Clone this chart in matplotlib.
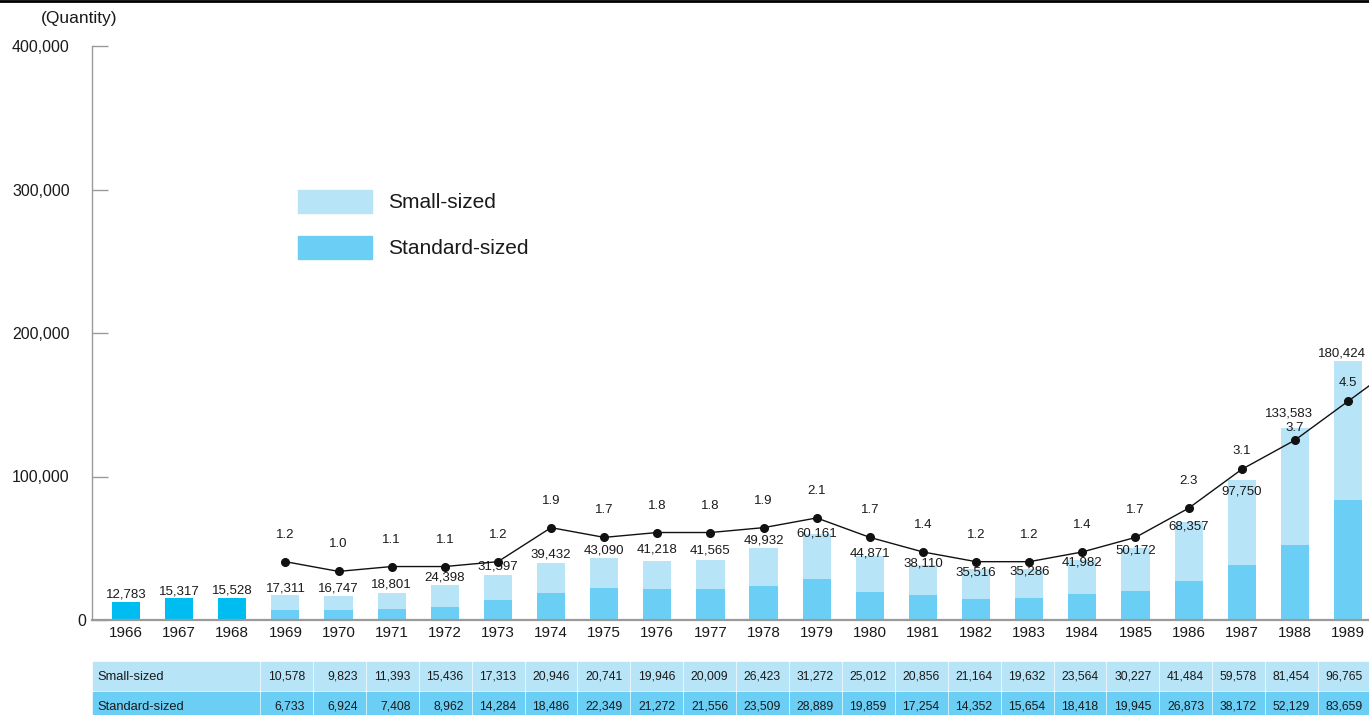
import matplotlib
matplotlib.use("Agg")
import matplotlib.pyplot as plt
from matplotlib.patches import Rectangle
from matplotlib.lines import Line2D
from matplotlib.transforms import ScaledTranslation

plt.rcParams["font.family"] = ["Liberation Sans", "DejaVu Sans"]

# production by year, units
years = list(range(1966, 1990))
early_totals = [12783, 15317, 15528]          # 1966-1968, no size breakdown
small_sized = [10578, 9823, 11393, 15436, 17313, 20946, 20741, 19946, 20009, 26423,
               31272, 25012, 20856, 21164, 19632, 23564, 30227, 41484, 59578, 81454, 96765]
standard_sized = [6733, 6924, 7408, 8962, 14284, 18486, 22349, 21272, 21556, 23509,
                  28889, 19859, 17254, 14352, 15654, 18418, 19945, 26873, 38172, 52129, 83659]
ratio = [1.2, 1.0, 1.1, 1.1, 1.2, 1.9, 1.7, 1.8, 1.8, 1.9, 2.1, 1.7, 1.4, 1.2, 1.2,
         1.4, 1.7, 2.3, 3.1, 3.7, 4.5]

C_EARLY = "#00BDF1"
C_STD = "#6BCEF4"
C_SMALL = "#B8E4F8"
TXT = "#1a1a1a"
GRID = "#9a9a9a"

W, H = 1369, 715
fig = plt.figure(figsize=(W / 100, H / 100), dpi=100)

ax = fig.add_axes([92 / W, (H - 620) / H, 1 - 92 / W, (620 - 46) / H])
ax.patch.set_visible(False)
n_early = len(early_totals)
x_early = list(range(n_early))
x_late = list(range(n_early, len(years)))
bw = 0.53

ax.bar(x_early, early_totals, width=bw, color=C_EARLY, zorder=2)
ax.bar(x_late, standard_sized, width=bw, color=C_STD, zorder=2)
ax.bar(x_late, small_sized, width=bw, bottom=standard_sized, color=C_SMALL, zorder=2)

totals = early_totals + [s + t for s, t in zip(small_sized, standard_sized)]
# label offsets from the bar top, in pixels (dx, dy)
lift = [7, 7, 7, 7, 7, 9, 7, 8, 9, 8, 11, 10, 8, 0, 2, 2, -3, -2, -2.5, -2, -5, -12, 15, 8]
shift = [0] * len(totals)
shift[-2], shift[-1] = -6, -6
for i, (v, dx, dy) in enumerate(zip(totals, shift, lift)):
    ax.annotate(f"{v:,}", (i, v), xytext=(dx * 0.72, dy * 0.72), textcoords="offset points",
                ha="center", va="center", fontsize=9.5, color=TXT, zorder=4)

ax.set_xlim(-0.64, 23.395)
ax.set_ylim(0, 400000)
ax.set_yticks([0, 100000, 200000, 300000, 400000])
ax.set_yticklabels(["0", "100,000", "200,000", "300,000", "400,000"])
ax.set_xticks(range(len(years)))
ax.set_xticklabels([str(y) for y in years])
ax.tick_params(axis="y", direction="in", length=11.5, width=1, color=GRID,
               labelsize=11.5, labelcolor=TXT, pad=16)
ax.tick_params(axis="x", length=0, labelsize=11, labelcolor=TXT, pad=4)
zero = ax.get_yticklabels()[0]
zero.set_transform(zero.get_transform() + ScaledTranslation(0.16, 0, fig.dpi_scale_trans))
for s in ("top", "right"):
    ax.spines[s].set_visible(False)
ax.spines["left"].set_color(GRID)
ax.spines["left"].set_linewidth(1)
ax.spines["bottom"].set_color(GRID)
ax.spines["bottom"].set_linewidth(1.6)

# ratio line on a hidden scale
ax2 = ax.twinx()
ax2.set_ylim(0, 11.81)
ax2.set_xlim(ax.get_xlim())
ax2.axis("off")
ax2.plot(x_late, ratio, color="#111111", lw=1, marker="o", ms=5.5, zorder=5)
x_end = ax.get_xlim()[1] + 0.5
slope = ratio[-1] - ratio[-2]
ax2.plot([x_late[-1], x_end], [ratio[-1], ratio[-1] + slope * (x_end - x_late[-1])],
         color="#111111", lw=1, zorder=5)
r_lift = [27] * len(ratio)
r_lift[-3], r_lift[-2], r_lift[-1] = 18, 12, 18
for xi, r, d in zip(x_late, ratio, r_lift):
    ax2.annotate(f"{r:.1f}", (xi, r), xytext=(0, d * 0.72), textcoords="offset points",
                 ha="center", va="center", fontsize=9.5, color=TXT)

# overlay in pixel coordinates: rule, unit label, legend, data table
ov = fig.add_axes([0, 0, 1, 1], zorder=10)
ov.patch.set_visible(False)
ov.set_xlim(0, W)
ov.set_ylim(H, 0)
ov.axis("off")
ov.add_line(Line2D([0, W], [1, 1], color="black", lw=2))
ov.text(41, 19, "(Quantity)", fontsize=12.5, color=TXT, va="center", ha="left")

for y0, col, lab in [(190, C_SMALL, "Small-sized"), (236, C_STD, "Standard-sized")]:
    ov.add_patch(Rectangle((298, y0), 74, 23, color=col))
    ov.text(388, y0 + 12, lab, fontsize=15, color=TXT, va="center", ha="left")

rows = [(662, 28, C_SMALL, "Small-sized", small_sized),
        (692, 30, C_STD, "Standard-sized", standard_sized)]
col0, pitch = 261, 52.9
for top, h, col, lab, vals in rows:
    ov.add_patch(Rectangle((93, top), 166, h, color=col))
    ov.text(97, top + 14.5, lab, fontsize=9.3, color=TXT, va="center", ha="left")
    for j, v in enumerate(vals):
        left = col0 + j * pitch
        ov.add_patch(Rectangle((left, top), pitch - 2, h, color=col))
        ov.text(left + pitch - 9, top + 14.5, f"{v:,}", fontsize=8.7, color=TXT,
                va="center", ha="right")

fig.savefig("out.png", dpi=100)
